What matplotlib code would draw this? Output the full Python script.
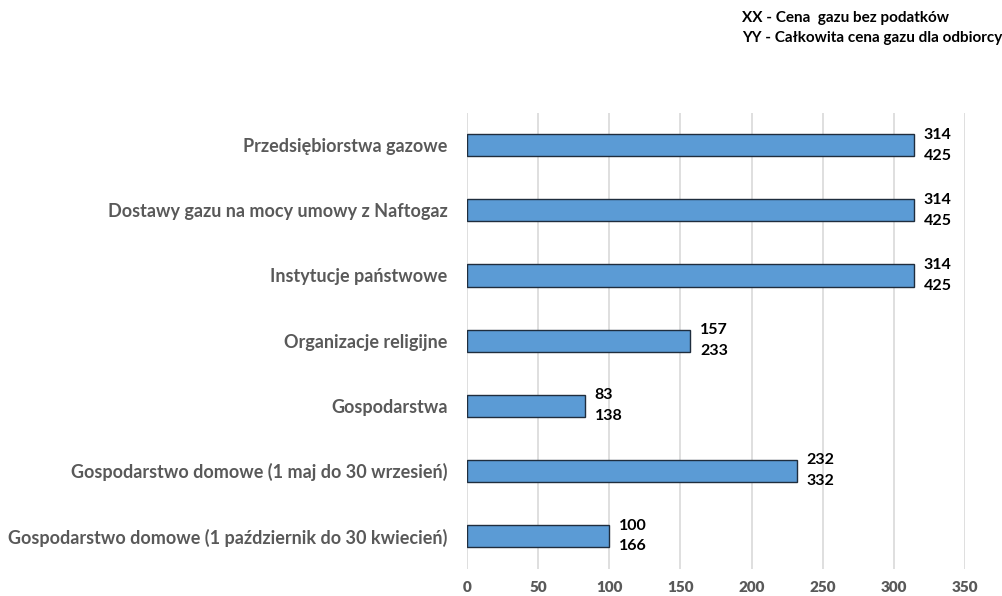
import matplotlib
matplotlib.use("Agg")
import matplotlib.pyplot as plt

plt.rcParams['font.family'] = ['Lato', 'DejaVu Sans']

categories = [
    "Gospodarstwo domowe (1 październik do 30 kwiecień)",
    "Gospodarstwo domowe (1 maj do 30 wrzesień)",
    "Gospodarstwa",
    "Organizacje religijne",
    "Instytucje państwowe",
    "Dostawy gazu na mocy umowy z Naftogaz",
    "Przedsiębiorstwa gazowe",
]
price_net = [100, 232, 83, 157, 314, 314, 314]
price_total = [166, 332, 138, 233, 425, 425, 425]
xticks = [0, 50, 100, 150, 200, 250, 300, 350]

fig = plt.figure(figsize=(10.02, 5.96), dpi=100)
ax = fig.add_axes([0.466, 0.046, 0.497, 0.765])

ypos = range(len(categories))
ax.barh(ypos, price_net, height=0.34, color="#5B9BD5",
        edgecolor="#1F2D3D", linewidth=1.0, zorder=3)

for y, a, b in zip(ypos, price_net, price_total):
    ax.annotate(str(a), (a, y), xytext=(7, 7.5), textcoords="offset points",
                ha="left", va="center", fontsize=11.5, fontweight="bold", color="black")
    ax.annotate(str(b), (a, y), xytext=(7, -7.5), textcoords="offset points",
                ha="left", va="center", fontsize=11.5, fontweight="bold", color="black")

ax.set_xlim(0, 350)
ax.set_ylim(-0.5, len(categories) - 0.5)
ax.set_xticks(xticks)
ax.set_xticklabels([str(t) for t in xticks], fontsize=11, fontweight="heavy", color="#595959")
ax.set_yticks(list(ypos))
ax.set_yticklabels(categories, fontsize=13, fontweight="bold", color="#595959")
ax.tick_params(axis="both", length=0)
ax.tick_params(axis="x", pad=9)
ax.tick_params(axis="y", pad=14)
ax.xaxis.grid(True, color="#D9D9D9", linewidth=1.2, zorder=0)
for s in ax.spines.values():
    s.set_visible(False)

fig.text(0.741, 0.970, "XX - Cena  gazu bez podatków", fontsize=11,
         fontweight="bold", color="black", va="center", ha="left")
fig.text(0.741, 0.936, "YY - Całkowita cena gazu dla odbiorcy", fontsize=11,
         fontweight="bold", color="black", va="center", ha="left")

fig.savefig("out.png", dpi=100)
